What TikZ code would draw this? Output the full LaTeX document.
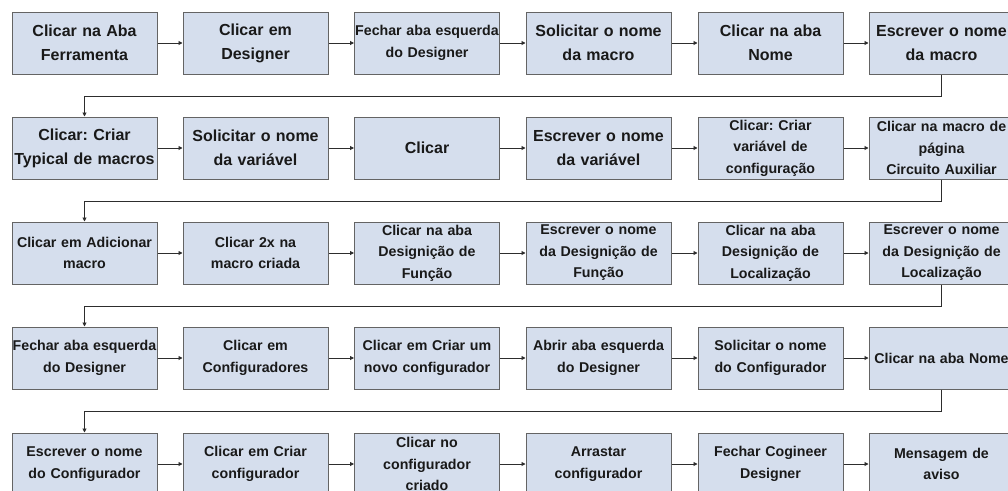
\documentclass[tikz,border=0pt]{standalone}
\usepackage{fontspec}
\setmainfont{Liberation Sans}
\frenchspacing
\usetikzlibrary{arrows.meta}
\definecolor{boxfill}{RGB}{213,222,237}
\definecolor{boxline}{RGB}{100,100,100}
\definecolor{connline}{RGB}{45,45,45}
\definecolor{txt}{RGB}{25,25,25}
\tikzset{
  stepbox/.style={draw=boxline, line width=1pt, fill=boxfill, rectangle,
    minimum width=145pt, minimum height=62pt, text width=145pt, inner xsep=0pt,
    inner ysep=0pt, align=center, text=txt},
  big/.style={stepbox, font=\fontsize{16}{24}\selectfont\bfseries\frenchspacing},
  small/.style={stepbox, font=\fontsize{14.2}{21.5}\selectfont\bfseries\frenchspacing},
  conn/.style={draw=connline, line width=0.9pt, -{Triangle[length=4pt,width=4pt]}}
}
\begin{document}
\begin{tikzpicture}[x=1pt,y=-1pt]
\useasboundingbox (0,0) rectangle (1008,490);
% row 1
\node[big]   (r1c1) at (84.5,43)  {Clicar na Aba\\Ferramenta};
\node[big]   (r1c2) at (255.5,43) {Clicar em\\Designer};
\node[small] (r1c3) at (427,43)   {Fechar aba esquerda\\do Designer};
\node[big]   (r1c4) at (598.5,43) {Solicitar o nome\\da macro};
\node[big]   (r1c5) at (770.5,43) {Clicar na aba\\Nome};
\node[big]   (r1c6) at (941.5,43) {Escrever o nome\\da macro};
% row 2
\node[big]   (r2c1) at (84.5,148)  {Clicar: Criar\\Typical de macros};
\node[big]   (r2c2) at (255.5,148) {Solicitar o nome\\da variável};
\node[big]   (r2c3) at (427,148)   {Clicar};
\node[big]   (r2c4) at (598.5,148) {Escrever o nome\\da variável};
\node[small] (r2c5) at (770.5,148) {Clicar: Criar\\variável de\\configuração};
\node[small] (r2c6) at (941.5,148) {Clicar na macro de\\página\\Circuito Auxiliar};
% row 3
\node[small] (r3c1) at (84.5,253)  {Clicar em Adicionar\\macro};
\node[small] (r3c2) at (255.5,253) {Clicar 2x na\\macro criada};
\node[small] (r3c3) at (427,253)   {Clicar na aba\\Designição de\\Função};
\node[small] (r3c4) at (598.5,253) {Escrever o nome\\da Designição de\\Função};
\node[small] (r3c5) at (770.5,253) {Clicar na aba\\Designição de\\Localização};
\node[small] (r3c6) at (941.5,253) {Escrever o nome\\da Designição de\\Localização};
% row 4
\node[small] (r4c1) at (84.5,358)  {Fechar aba esquerda\\do Designer};
\node[small] (r4c2) at (255.5,358) {Clicar em\\Configuradores};
\node[small] (r4c3) at (427,358)   {Clicar em Criar um\\novo configurador};
\node[small] (r4c4) at (598.5,358) {Abrir aba esquerda\\do Designer};
\node[small] (r4c5) at (770.5,358) {Solicitar o nome\\do Configurador};
\node[small] (r4c6) at (941.5,358) {Clicar na aba Nome};
% row 5
\node[small] (r5c1) at (84.5,464)  {Escrever o nome\\do Configurador};
\node[small] (r5c2) at (255.5,464) {Clicar em Criar\\configurador};
\node[small] (r5c3) at (427,464)   {Clicar no\\configurador\\criado};
\node[small] (r5c4) at (598.5,464) {Arrastar\\configurador};
\node[small] (r5c5) at (770.5,464) {Fechar Cogineer\\Designer};
\node[small] (r5c6) at (941.5,464) {Mensagem de\\aviso};
% horizontal connectors
\foreach \r in {1,...,5}{
  \foreach \a/\b in {1/2,2/3,3/4,4/5,5/6}{
    \draw[conn] (r\r c\a.east) -- (r\r c\b.west);
  }
}
% row-to-row connectors
\draw[conn] (r1c6.south) -- ++(0,22) -| (r2c1.north);
\draw[conn] (r2c6.south) -- ++(0,22) -| (r3c1.north);
\draw[conn] (r3c6.south) -- ++(0,22) -| (r4c1.north);
\draw[conn] (r4c6.south) -- ++(0,22) -| (r5c1.north);
\end{tikzpicture}
\end{document}
